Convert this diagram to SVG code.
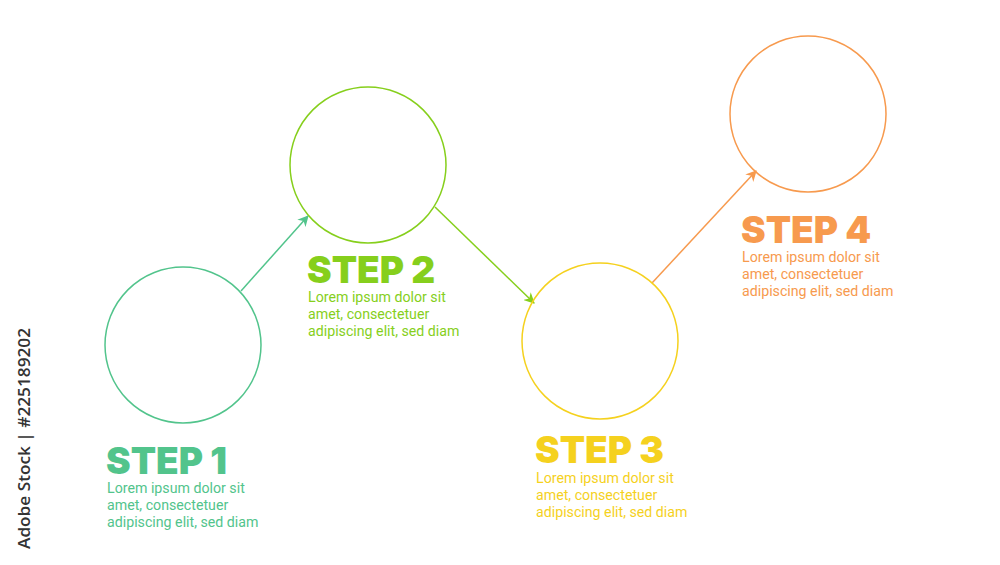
<svg xmlns="http://www.w3.org/2000/svg" width="1000" height="565" viewBox="0 0 1000 565">
<defs>
<style>
.c{fill:none;stroke-width:1.5}
.h{font-family:Inter,"Liberation Sans",sans-serif;font-weight:900;font-size:37px}
.b{font-family:Roboto,"Liberation Sans",sans-serif;font-size:14.2px}
.a{stroke-width:1.5;fill:none}
</style>
<marker id="m1" viewBox="0 0 10 10" refX="9" refY="5" markerWidth="11" markerHeight="11" orient="auto" markerUnits="userSpaceOnUse"><path d="M0,0 L10,5 L0,10 L3,5 Z" fill="#52c48c"/></marker>
<marker id="m2" viewBox="0 0 10 10" refX="9" refY="5" markerWidth="11" markerHeight="11" orient="auto" markerUnits="userSpaceOnUse"><path d="M0,0 L10,5 L0,10 L3,5 Z" fill="#86cf1c"/></marker>
<marker id="m3" viewBox="0 0 10 10" refX="9" refY="5" markerWidth="11" markerHeight="11" orient="auto" markerUnits="userSpaceOnUse"><path d="M0,0 L10,5 L0,10 L3,5 Z" fill="#f79a4e"/></marker>
</defs>
<rect width="1000" height="565" fill="#ffffff"/>
<g id="connectors">
<line class="a" x1="241" y1="291" x2="308" y2="216" stroke="#52c48c" marker-end="url(#m1)"/>
<line class="a" x1="435" y1="207" x2="534" y2="303" stroke="#86cf1c" marker-end="url(#m2)"/>
<line class="a" x1="652" y1="283" x2="756" y2="171" stroke="#f79a4e" marker-end="url(#m3)"/>
</g>
<g id="step1">
<circle class="c" cx="183" cy="345" r="78" stroke="#52c48c"/>
<text class="h" x="106" y="474" fill="#52c48c">STEP 1</text>
<text class="b" fill="#52c48c"><tspan x="107" y="493">Lorem ipsum dolor sit</tspan><tspan x="107" y="510">amet, consectetuer</tspan><tspan x="107" y="527">adipiscing elit, sed diam</tspan></text>
</g>
<g id="step2">
<circle class="c" cx="368" cy="165" r="78" stroke="#86cf1c"/>
<text class="h" x="307" y="283" fill="#86cf1c">STEP 2</text>
<text class="b" fill="#86cf1c"><tspan x="308" y="302">Lorem ipsum dolor sit</tspan><tspan x="308" y="319">amet, consectetuer</tspan><tspan x="308" y="336">adipiscing elit, sed diam</tspan></text>
</g>
<g id="step3">
<circle class="c" cx="600" cy="341" r="78" stroke="#f5d11e"/>
<text class="h" x="535" y="463" fill="#f5d11e">STEP 3</text>
<text class="b" fill="#f5d11e"><tspan x="536" y="483">Lorem ipsum dolor sit</tspan><tspan x="536" y="500">amet, consectetuer</tspan><tspan x="536" y="517">adipiscing elit, sed diam</tspan></text>
</g>
<g id="step4">
<circle class="c" cx="808" cy="114" r="78" stroke="#f79a4e"/>
<text class="h" x="741" y="243" fill="#f79a4e">STEP 4</text>
<text class="b" fill="#f79a4e"><tspan x="742" y="262">Lorem ipsum dolor sit</tspan><tspan x="742" y="279">amet, consectetuer</tspan><tspan x="742" y="296">adipiscing elit, sed diam</tspan></text>
</g>
<text transform="translate(30,549) rotate(-90)" font-family="'Open Sans','Liberation Sans',sans-serif" font-weight="600" font-size="16" fill="#333333" textLength="221" lengthAdjust="spacingAndGlyphs">Adobe Stock | #225189202</text>
</svg>
